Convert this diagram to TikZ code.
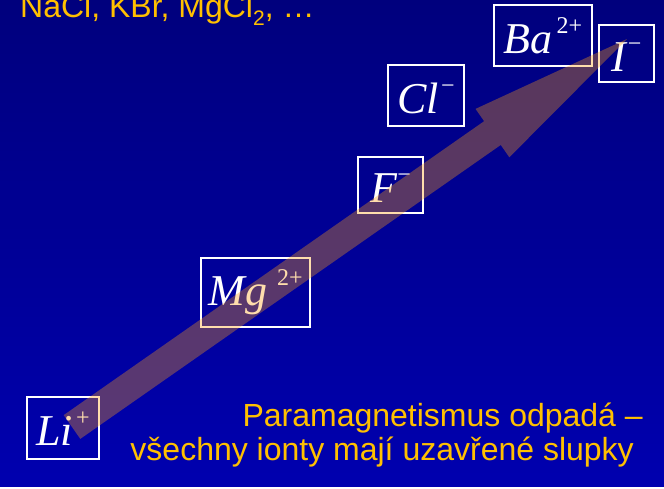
\documentclass[tikz,border=0pt]{standalone}
\usepackage{fontspec}
\setmainfont{Liberation Sans}
\newfontfamily\ionfont{Liberation Serif}
\usetikzlibrary{calc}
\definecolor{slidetop}{RGB}{0,0,125}
\definecolor{slidebottom}{RGB}{0,0,175}
\definecolor{noteorange}{RGB}{255,192,0}
\definecolor{trendorange}{RGB}{255,160,20}
\newcommand{\ionlabel}[3]{\textit{#1}\hspace{#3}\raisebox{20pt}{\fontsize{24}{24}\selectfont #2\vphantom{2}}}
\newcommand{\lowsub}[1]{\raisebox{-8pt}{\fontsize{21}{21}\selectfont #1}}

\begin{document}
\begin{tikzpicture}[x=1pt, y=1pt,
    ion/.style={draw=white, line width=1.5pt, inner sep=0pt, text=white,
                font=\ionfont\fontsize{44}{48}\selectfont},
    note/.style={inner sep=0pt, text=noteorange, font=\fontsize{32}{34}\selectfont},
    trend/.style={fill=trendorange, fill opacity=0.35}
  ]
  % slide background
  \fill[white] (0,0) rectangle (664,489);
  \shade[top color=slidetop, bottom color=slidebottom] (0,2) rectangle (664,489);
  \useasboundingbox (0,0) rectangle (664,489);

  \node[note, anchor=base west] (salts) at (20,471) {NaCl, KBr, MgCl\lowsub{2}, …};

  % ion boxes
  \node[ion, minimum width=72pt, minimum height=62pt] (li) at (63,61) {\ionlabel{Li}{+}{3pt}};
  \node[ion, minimum width=109pt, minimum height=69pt] (mg) at (255.5,196.5) {\ionlabel{Mg}{2+}{10pt}};
  \node[ion, minimum width=65pt, minimum height=56pt] (f) at (390.5,304) {\ionlabel{F}{−}{0pt}};
  \node[ion, minimum width=76pt, minimum height=61pt] (cl) at (426,393.5) {\ionlabel{Cl}{−}{2pt}};
  \node[ion, minimum width=98pt, minimum height=61pt] (ba) at (543,453.5) {\ionlabel{Ba}{2+}{4pt}};
  \node[ion, minimum width=55pt, minimum height=57pt] (i) at (626.5,435.5) {\ionlabel{I}{−}{0pt}};

  \node[note, anchor=base east] (note1) at (643,62) {Paramagnetismus odpadá –};
  \node[note, anchor=base east] (note2) at (634,28) {všechny ionty mají uzavřené slupky};

  % trend arrow
  \coordinate (tail) at (72,62);
  \coordinate (tip) at (627,450);
  \coordinate (base) at ($(tail)!513pt!(tip)$);
  \fill[trend] ($(tail)!14.5pt!90:(tip)$) -- ($(base)!14.5pt!90:(tip)$)
    -- ($(base)!29.5pt!90:(tip)$) -- (tip) -- ($(base)!29.5pt!-90:(tip)$)
    -- ($(base)!14.5pt!-90:(tip)$) -- ($(tail)!14.5pt!-90:(tip)$) -- cycle;
\end{tikzpicture}
\end{document}
